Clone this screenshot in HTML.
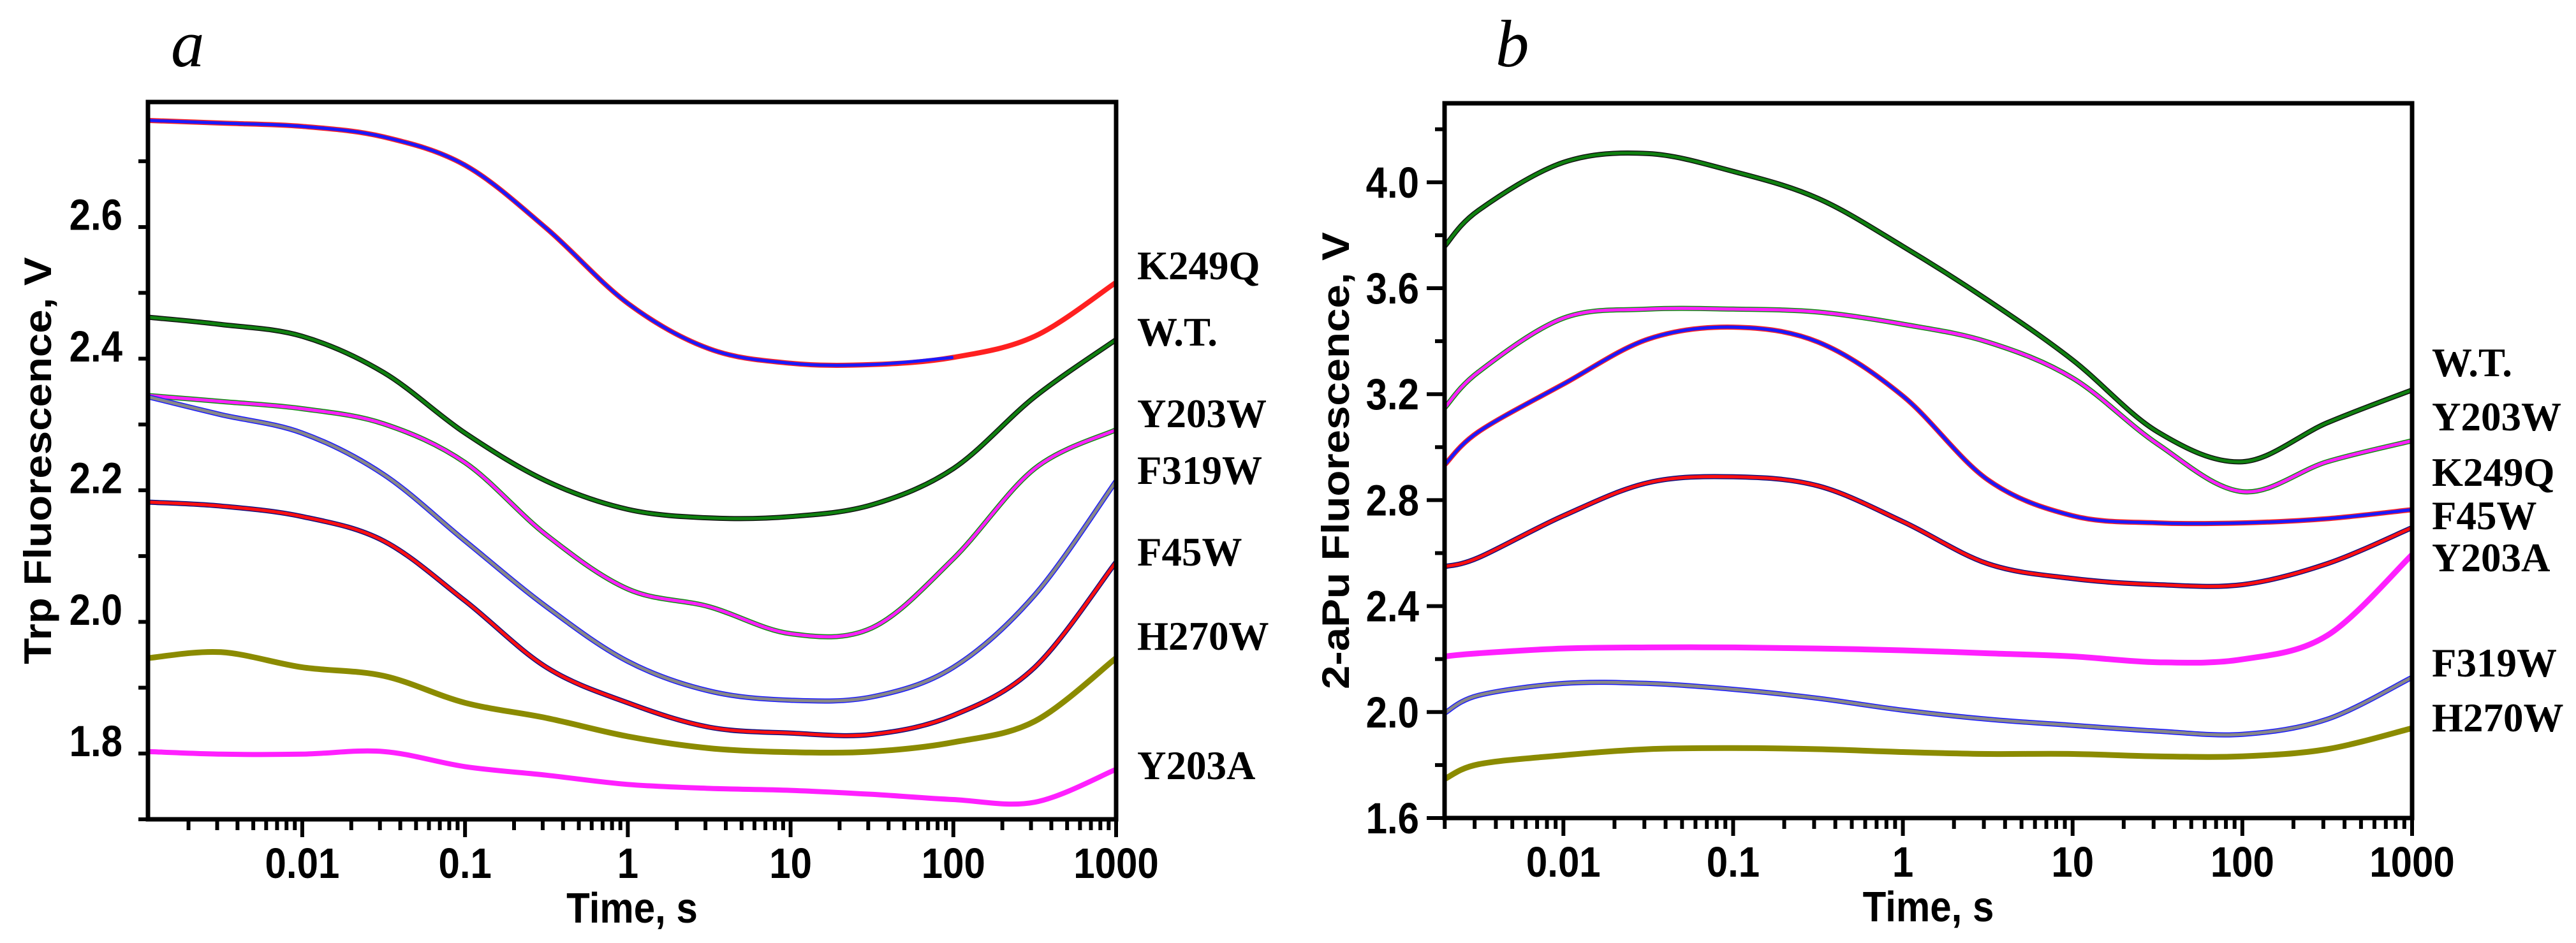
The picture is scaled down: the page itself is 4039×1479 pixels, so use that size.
<!DOCTYPE html>
<html><head><meta charset="utf-8"><style>
html,body{margin:0;padding:0;background:#fff;}
svg{display:block;}
.tk{font-family:"Liberation Sans",Arial,sans-serif;font-weight:bold;font-size:60px;fill:#000;}
.lb{font-family:"Liberation Serif","Times New Roman",serif;font-weight:bold;font-size:63px;fill:#000;}
.pl{font-family:"Liberation Serif",serif;font-style:italic;font-size:105px;fill:#000;}
</style></head><body>
<svg id="fig" width="4039" height="1479" viewBox="0 0 4039 1479" xmlns="http://www.w3.org/2000/svg">
<rect width="4039" height="1479" fill="#fff"/>
<g id="pa"></g>
<g id="pb"></g>
</svg>
<script>
// shared log10(time) knots
const logTimeA = [-2.948,-2.5,-2,-1.5,-1,-0.5,0,0.5,1,1.5,2,2.5,3];
const logTimeB = [-2.70,-2.5,-2,-1.5,-1,-0.5,0,0.5,1,1.5,2,2.5,3];
const xTickLabels = ["0.01","0.1","1","10","100","1000"];
const xTickLogs = [-2,-1,0,1,2,3];
const yTicksA = [1.8,2.0,2.2,2.4,2.6];
const yTicksB = [1.6,2.0,2.4,2.8,3.2,3.6,4.0];

// Panel a series (Trp fluorescence, V)
const aK249Q = [2.743,2.739,2.734,2.718,2.675,2.579,2.465,2.396,2.374,2.372,2.383,2.415,2.497];
const aWT    = [2.444,2.433,2.415,2.360,2.268,2.195,2.152,2.139,2.141,2.159,2.214,2.323,2.410];
const aY203W = [2.325,2.316,2.305,2.282,2.223,2.113,2.031,2.004,1.963,1.972,2.077,2.214,2.273];
const aF319W = [2.323,2.296,2.268,2.205,2.104,2.004,1.921,1.876,1.862,1.867,1.912,2.022,2.195];
const aF45W  = [2.163,2.157,2.141,2.104,2.013,1.912,1.858,1.821,1.812,1.810,1.839,1.912,2.072];
const aH270W = [1.926,1.935,1.912,1.899,1.858,1.835,1.807,1.789,1.783,1.784,1.798,1.830,1.926];
const aY203A = [1.784,1.780,1.780,1.784,1.761,1.748,1.734,1.728,1.725,1.719,1.711,1.707,1.757];

// Panel b series (2-aPu fluorescence, V)
const bWT    = [3.758,3.894,4.075,4.108,4.041,3.939,3.758,3.555,3.329,3.058,2.945,3.092,3.216];
const bY203W = [3.148,3.284,3.487,3.521,3.521,3.510,3.464,3.397,3.261,3.012,2.832,2.945,3.024];
const bK249Q = [2.933,3.058,3.238,3.408,3.453,3.397,3.193,2.877,2.741,2.714,2.714,2.730,2.764];
const bF45W  = [2.549,2.583,2.741,2.866,2.888,2.854,2.719,2.560,2.504,2.481,2.481,2.560,2.696];
const bY203A = [2.210,2.222,2.240,2.244,2.244,2.240,2.233,2.222,2.210,2.188,2.199,2.289,2.594];
const bF319W = [1.996,2.063,2.108,2.108,2.086,2.052,2.007,1.973,1.950,1.928,1.916,1.973,2.131];
const bH270W = [1.747,1.803,1.837,1.860,1.864,1.860,1.849,1.842,1.842,1.833,1.833,1.860,1.939];

const NS="http://www.w3.org/2000/svg";
function mk(tag,attrs,parent){const e=document.createElementNS(NS,tag);for(const k in attrs)e.setAttribute(k,attrs[k]);parent.appendChild(e);return e;}

function smoothPath(pts){
  let d="M"+pts[0][0].toFixed(1)+","+pts[0][1].toFixed(1);
  for(let i=0;i<pts.length-1;i++){
    const p0=pts[Math.max(0,i-1)],p1=pts[i],p2=pts[i+1],p3=pts[Math.min(pts.length-1,i+2)];
    const c1=[p1[0]+(p2[0]-p0[0])/6,p1[1]+(p2[1]-p0[1])/6];
    const c2=[p2[0]-(p3[0]-p1[0])/6,p2[1]-(p3[1]-p1[1])/6];
    d+=" C"+c1[0].toFixed(1)+","+c1[1].toFixed(1)+" "+c2[0].toFixed(1)+","+c2[1].toFixed(1)+" "+p2[0].toFixed(1)+","+p2[1].toFixed(1);
  }
  return d;
}

function panel(g,cfg){
  const X=l=>cfg.left+(l-cfg.lmin)/(cfg.lmax-cfg.lmin)*(cfg.right-cfg.left);
  const Y=v=>cfg.bottom-(v-cfg.vmin)/(cfg.vmax-cfg.vmin)*(cfg.bottom-cfg.top);
  cfg.series.forEach(s=>{
    const pts=cfg.logs.map((l,i)=>[X(l),Y(s.vals[i])]);
    const dp=mk("path",{d:smoothPath(pts),fill:"none",stroke:s.data,"stroke-width":s.dw||8,"stroke-linejoin":"round"},g);
    
    
    if(s.fit){
      const end=s.fitEnd!==undefined?s.fitEnd:cfg.logs.length;
      const fp=mk("path",{d:smoothPath(pts.slice(0,end)),fill:"none",stroke:s.fit,"stroke-width":5},g);
      
      
    }
  });
  const box=mk("rect",{x:cfg.left,y:cfg.top,width:cfg.right-cfg.left,height:cfg.bottom-cfg.top,fill:"none",stroke:"#000","stroke-width":7},g);
  
  
  for(let dec=Math.floor(cfg.lmin);dec<=3;dec++){
    for(let m=1;m<=9;m++){
      const l=dec+Math.log10(m); if(l<cfg.lmin-1e-6||l>cfg.lmax+1e-6) continue;
      const x=X(l);
      mk("line",{x1:x,y1:cfg.bottom,x2:x,y2:cfg.bottom+(m===1?28:17),stroke:"#000","stroke-width":6},g);
    }
  }
  xTickLogs.forEach((l,i)=>{
    const t=mk("text",{class:"tk","text-anchor":"middle",transform:`translate(${X(l)},${cfg.bottom+92}) scale(1,1.12)`},g);
    t.textContent=xTickLabels[i];
    
    
  });
  for(let v=cfg.vmin;v<=cfg.vmax+1e-6;v+=cfg.minor){
    const vv=Math.round(v*1000)/1000;
    const major=cfg.yTicks.some(t=>Math.abs(t-vv)<1e-6);
    const y=Y(vv);
    mk("line",{x1:cfg.left,y1:y,x2:cfg.left-(major?28:15),y2:y,stroke:"#000","stroke-width":6},g);
  }
  cfg.yTicks.forEach(v=>{
    const t=mk("text",{class:"tk","text-anchor":"end",transform:`translate(${cfg.left-40},${Y(v)+24}) scale(1,1.15)`},g);
    t.textContent=v.toFixed(1);
    
    
  });
  const xt=mk("text",{class:"tk","text-anchor":"middle",transform:`translate(${(cfg.left+cfg.right)/2},${cfg.bottom+162}) scale(1,1.12)`},g);
  xt.textContent="Time, s";
  
  
  const yt=mk("text",{class:"tk","text-anchor":"middle",transform:`translate(${cfg.ytx},${(cfg.top+cfg.bottom)/2}) rotate(-90) scale(1.12,1)`},g);
  yt.textContent=cfg.ytitle;
  
  
  cfg.labels.forEach(L=>{
    const t=mk("text",{class:"lb",x:cfg.labx,y:L[1]},g);
    t.textContent=L[0];
    
    
  });
  const p=mk("text",{class:"pl",x:cfg.px,y:104},g);
  p.textContent=cfg.pletter;
  
  
}

panel(document.getElementById("pa"),{
  left:232,right:1750,top:160,bottom:1285,lmin:-2.948,lmax:3,vmin:1.681,vmax:2.771,
  logs:logTimeA,yTicks:yTicksA,minor:0.1,ytitle:"Trp Fluorescence, V",ytx:80,
  labx:1783,px:268,pletter:"a",
  labels:[["K249Q",438],["W.T.",542],["Y203W",670],["F319W",759],["F45W",887],["H270W",1019],["Y203A",1222]],
  series:[
    {name:"k249q",vals:aK249Q,data:"#ff2020",fit:"#1a1aff",fitEnd:11},
    {name:"wt",vals:aWT,data:"#111",fit:"#108010"},
    {name:"y203w",vals:aY203W,data:"#109010",fit:"#ff20ff"},
    {name:"f319w",vals:aF319W,data:"#1a1aff",fit:"#888"},
    {name:"f45w",vals:aF45W,data:"#101080",fit:"#ff1010"},
    {name:"h270w",vals:aH270W,data:"#8b8b00",dw:9},
    {name:"y203a",vals:aY203A,data:"#ff20ff",dw:8}
  ]
});
panel(document.getElementById("pb"),{
  left:2265,right:3782,top:162,bottom:1283,lmin:-2.70,lmax:3,vmin:1.6,vmax:4.298,
  logs:logTimeB,yTicks:yTicksB,minor:0.2,ytitle:"2-aPu Fluorescence, V",ytx:2115,
  labx:3813,px:2345,pletter:"b",
  labels:[["W.T.",590],["Y203W",675],["K249Q",762],["F45W",830],["Y203A",896],["F319W",1061],["H270W",1147]],
  series:[
    {name:"wt",vals:bWT,data:"#111",fit:"#108010"},
    {name:"y203w",vals:bY203W,data:"#109010",fit:"#ff20ff"},
    {name:"k249q",vals:bK249Q,data:"#ff2020",fit:"#1a1aff"},
    {name:"f45w",vals:bF45W,data:"#101080",fit:"#ff1010"},
    {name:"y203a",vals:bY203A,data:"#ff20ff",dw:9},
    {name:"f319w",vals:bF319W,data:"#1a1aff",fit:"#888"},
    {name:"h270w",vals:bH270W,data:"#8b8b00",dw:9}
  ]
});
</script>
</body></html>
